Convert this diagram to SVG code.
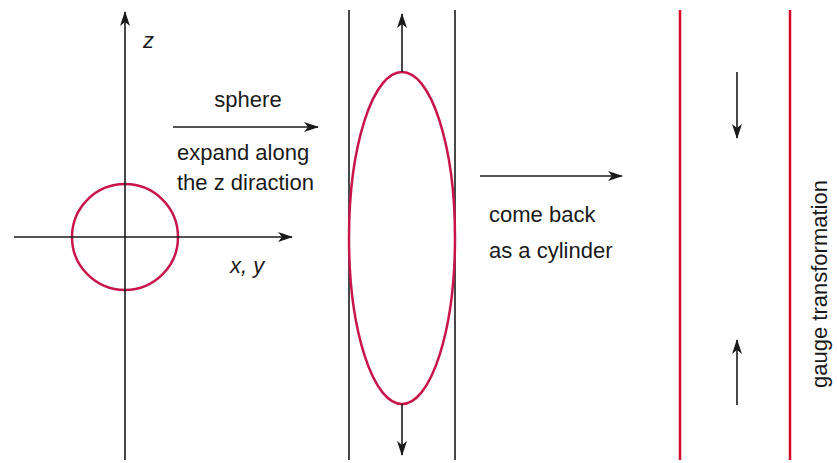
<svg xmlns="http://www.w3.org/2000/svg" width="837" height="463" viewBox="0 0 837 463">
<defs>
<marker id="ah" viewBox="0 0 15 10" refX="14" refY="5" markerWidth="15" markerHeight="10" markerUnits="userSpaceOnUse" orient="auto">
<path d="M0,0 L15,5 L0,10 L4,5 z" fill="#1a1a1a"/>
</marker>
<style>
.ln{stroke:#1a1a1a;stroke-width:1.6;fill:none}
.ar{stroke:#1a1a1a;stroke-width:1.6;fill:none;marker-end:url(#ah)}
.red{stroke:#d40a2a;stroke-width:2.5;fill:none}
.shape{stroke:#c8164b;stroke-width:2.5;fill:none}
.t{font-family:"Liberation Sans",Arial,sans-serif;font-size:22px;fill:#1a1a1a}
.it{font-style:italic}
</style>
</defs>
<rect width="837" height="463" fill="#fff"/>
<g id="sphere-panel">
<circle class="shape" cx="125" cy="237" r="53"/>
<text class="t it" x="143" y="48">z</text>
<text class="t it" x="230" y="273">x, y</text>
</g>
<g id="ellipsoid-panel">
<line class="ln" x1="349" y1="10" x2="349" y2="460"/>
<line class="ln" x1="455" y1="10" x2="455" y2="460"/>
<ellipse class="shape" cx="402" cy="238" rx="53" ry="166"/>
</g>
<g id="cylinder-panel">
<line class="red" x1="680" y1="10" x2="680" y2="460"/>
<line class="red" x1="790" y1="10" x2="790" y2="460"/>
<text class="t" transform="translate(827,284) rotate(-90)" text-anchor="middle">gauge transformation</text>
</g>
<g id="labels">
<text class="t" x="248" y="107" text-anchor="middle">sphere</text>
<text class="t" x="177" y="160">expand along</text>
<text class="t" x="177" y="190">the z diraction</text>
<text class="t" x="489" y="222">come back</text>
<text class="t" x="489" y="258">as a cylinder</text>
</g>
<g id="connectors">
<line class="ar" x1="125" y1="460" x2="125" y2="12"/>
<line class="ar" x1="14" y1="237" x2="292" y2="237"/>
<line class="ar" x1="173" y1="127" x2="318" y2="127"/>
<line class="ar" x1="480" y1="176" x2="622" y2="176"/>
<line class="ar" x1="402" y1="72" x2="402" y2="14"/>
<line class="ar" x1="402" y1="404" x2="402" y2="455"/>
<line class="ar" x1="737" y1="72" x2="737" y2="138"/>
<line class="ar" x1="737" y1="405" x2="737" y2="340"/>
</g>
</svg>
